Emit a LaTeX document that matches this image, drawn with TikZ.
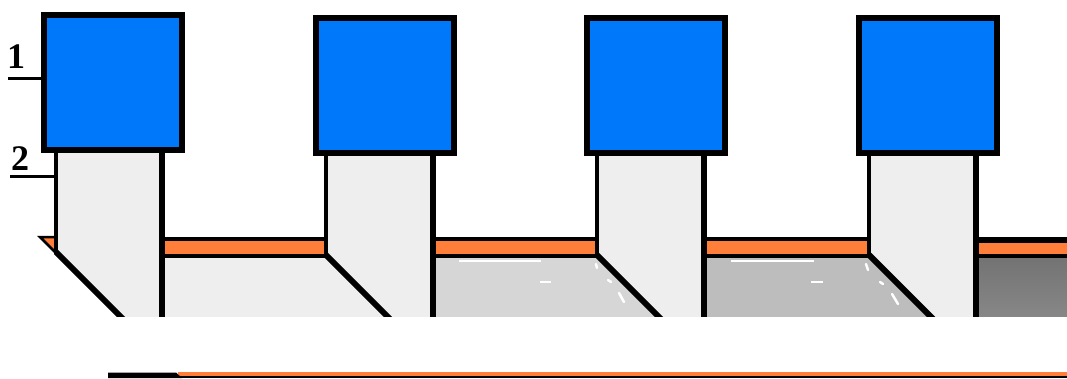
\documentclass[tikz,border=0pt]{standalone}
\usepackage{tikz}
\usepackage{fontspec}
\setmainfont{Liberation Serif}
\usetikzlibrary{positioning}
\definecolor{capblue}{HTML}{0078FA}
\definecolor{layerorange}{HTML}{FF7F3A}
\definecolor{necklight}{HTML}{EEEEEE}
\begin{document}
\begin{tikzpicture}[
  x=1pt,y=-1pt,
  capbox/.style={rectangle,draw=black,fill=capblue,line width=6pt,minimum width=138pt,minimum height=135pt,inner sep=0pt,outer sep=0pt},
  neck/.style={fill=necklight,draw=none},
  ground/.style={draw=none},
  layer/.style={fill=layerorange,draw=none},
  wallthin/.style={black,line width=4.5pt},
  wall/.style={black,line width=6pt},
  slant/.style={black,line width=6pt},
  rail/.style={black,line width=4.5pt},
  leader/.style={black,line width=3pt},
  speck/.style={white,line width=2pt},
  dot/.style={white,line width=2.5pt,line cap=round},
  lbl/.style={font=\fontsize{36}{36}\selectfont\bfseries,inner sep=0pt}
]
\useasboundingbox (0,0) rectangle (1067,378);
\fill[white] (0,0) rectangle (1067,378);
% layers under the caps
\begin{scope}
\clip (0,0) rectangle (1067,316);
\fill[layer] (162,241) rectangle (326,254);
\fill[layer] (433,241) rectangle (597,254);
\fill[layer] (704,241) rectangle (869,254);
\fill[layer] (976,243) rectangle (1067,254);
\fill[ground,fill=necklight] (162,256) -- (326,256) -- (388,318) -- (162,318) -- cycle;
\fill[ground,fill=black!16] (433,256) -- (597,256) -- (659,318) -- (433,318) -- cycle;
\fill[ground,fill=black!26] (704,256) -- (869,256) -- (931,318) -- (704,318) -- cycle;
\shade[ground,top color=black!55,bottom color=black!47] (976,256) rectangle (1067,318);
\fill[neck] (56,152) -- (162,152) -- (162,318) -- (122,318) -- (56,252) -- cycle;
\fill[neck] (326,155) -- (433,155) -- (433,318) -- (392,318) -- (326,256) -- cycle;
\fill[neck] (597,155) -- (704,155) -- (704,318) -- (663,318) -- (597,256) -- cycle;
\fill[neck] (869,155) -- (976,155) -- (976,318) -- (935,318) -- (869,256) -- cycle;
\fill[layer] (41,238) -- (54,238) -- (54,250) -- cycle;
% scanner specks
\draw[speck] (459,261) -- (541,261); \draw[speck] (540,282) -- (551,282);
\draw[dot] (596,264) -- (597,268); \draw[dot] (608,280) -- (611,282); \draw[dot] (619,293) -- (624,302);
\draw[speck] (731,261) -- (814,261); \draw[speck] (811,282) -- (823,282);
\draw[dot] (866,264) -- (868,270); \draw[dot] (880,282) -- (883,284); \draw[dot] (892,294) -- (898,304);
\draw[rail] (162,239) -- (326,239); \draw[rail] (162,256) -- (326,256);
\draw[rail] (433,239) -- (597,239); \draw[rail] (433,256) -- (597,256);
\draw[rail] (704,239) -- (869,239); \draw[rail] (704,256) -- (869,256);
\draw[rail,line width=6pt] (976,240) -- (1067,240); \draw[rail] (976,256) -- (1067,256);
\draw[wallthin] (56,150) -- (56,254); \draw[slant] (56,252) -- (124,320);
\draw[wallthin] (326,150) -- (326,256); \draw[slant] (326,255) -- (390,319);
\draw[wallthin] (597,150) -- (597,256); \draw[slant] (597,255) -- (661,319);
\draw[wallthin] (869,150) -- (869,256); \draw[slant] (869,255) -- (933,319);
\draw[wall] (162,150) -- (162,320); \draw[wall] (433,150) -- (433,320);
\draw[wall] (704,150) -- (704,320); \draw[wall] (976,150) -- (976,320);
\draw[black,line width=2.5pt,line join=miter] (56,237) -- (40,237) -- (56,253);
\end{scope}
% caps
\node[capbox] (cap1) at (113,82) {};
\node[capbox] (cap2) at (384.5,85) {};
\node[capbox] (cap3) at (655.5,85) {};
\node[capbox] (cap4) at (927.5,85) {};
% labels
\node[lbl] (one) at (16,57) {1};
\node[lbl] (two) at (20,158.5) {2};
\coordinate (tick1) at (8,78.5);
\coordinate (tick2) at (10,176.5);
\draw[leader] (tick1) -- (tick1 -| cap1.west);
\draw[leader] (tick2) -- (56,176.5);
% lower strip
\fill[layerorange] (178,372) rectangle (1067,376);
\fill[black] (178,376) rectangle (1067,378);
\fill[black] (108,372.5) -- (176,372.5) -- (182,378) -- (108,378) -- cycle;
\end{tikzpicture}
\end{document}
